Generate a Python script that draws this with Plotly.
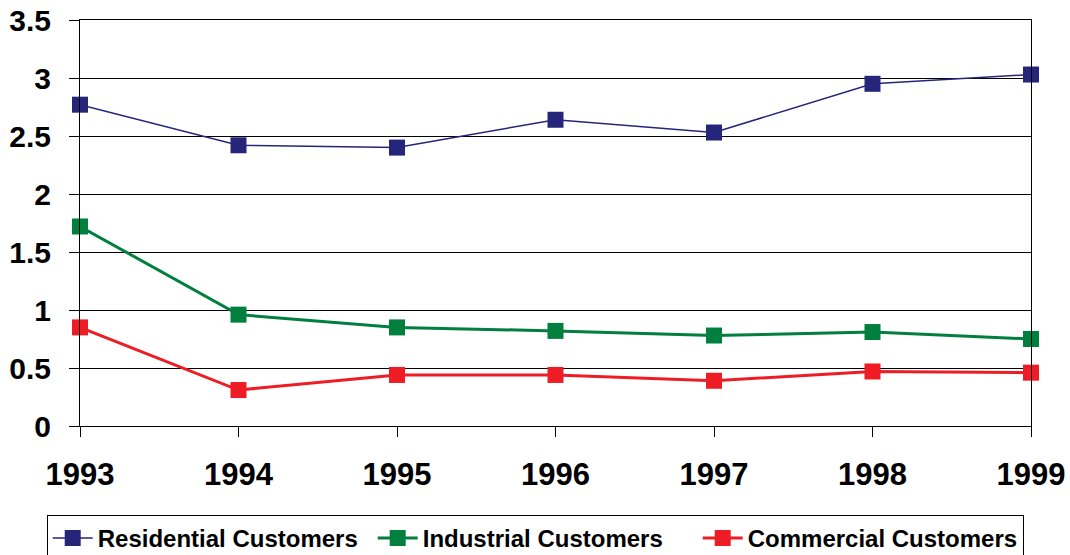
import plotly.graph_objects as go

years = [1993, 1994, 1995, 1996, 1997, 1998, 1999]
residential = [2.77, 2.42, 2.40, 2.64, 2.53, 2.95, 3.03]
industrial = [1.72, 0.96, 0.85, 0.82, 0.78, 0.81, 0.75]
commercial = [0.85, 0.31, 0.44, 0.44, 0.39, 0.47, 0.46]

y_ticks = [0, 0.5, 1, 1.5, 2, 2.5, 3, 3.5]
y_tick_labels = ["0", "0.5", "1", "1.5", "2", "2.5", "3", "3.5"]

series = [
    ("Residential Customers", residential, "#25257A", 1.5),
    ("Industrial Customers", industrial, "#007F3F", 3),
    ("Commercial Customers", commercial, "#EE1D25", 3),
]

fig = go.Figure()
for name, vals, color, width in series:
    fig.add_trace(go.Scatter(
        x=years, y=vals, name=name, mode="lines+markers",
        line=dict(color=color, width=width),
        marker=dict(symbol="square", size=16, color=color),
        cliponaxis=False,
    ))

font_family = "Liberation Sans, Arial, sans-serif"

fig.update_layout(
    width=1070, height=555,
    margin=dict(l=80, r=39, t=20, b=129, autoexpand=False),
    paper_bgcolor="white", plot_bgcolor="white",
    font=dict(family=font_family, color="black"),
    showlegend=True,
    legend=dict(
        orientation="h",
        x=-0.035, xanchor="left",
        y=-0.219, yanchor="top",
        bordercolor="black", borderwidth=1,
        font=dict(size=24, weight=700, family=font_family),
        itemwidth=40,
        entrywidth=270,
        traceorder="normal",
    ),
)

fig.update_xaxes(
    range=[1993, 1999],
    tickmode="array", tickvals=years, ticktext=[str(y) for y in years],
    showgrid=False, zeroline=False,
    showline=True, linecolor="black", linewidth=1, mirror=True,
    ticks="outside", ticklen=10, tickcolor="black",
    tickfont=dict(size=31, weight=700, family=font_family),
    ticklabelstandoff=11,
    automargin=False,
)

fig.update_yaxes(
    range=[0, 3.5],
    tickmode="array", tickvals=y_ticks, ticktext=y_tick_labels,
    showgrid=True, gridcolor="black", gridwidth=1,
    zeroline=False,
    showline=True, linecolor="black", linewidth=1, mirror=True,
    ticks="outside", ticklen=10, tickcolor="black",
    tickfont=dict(size=30, weight=700, family=font_family),
    ticklabelstandoff=12,
    automargin=False,
)

fig.write_html("out.html")
